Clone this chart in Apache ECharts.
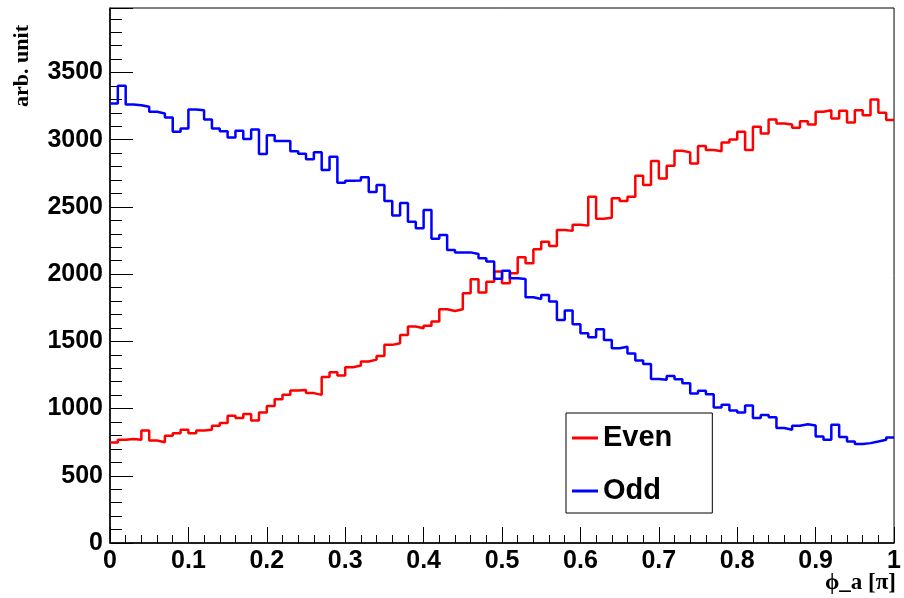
<!DOCTYPE html>
<html>
<head>
<meta charset="utf-8">
<script src="https://cdn.jsdelivr.net/npm/echarts@6/dist/echarts.min.js"></script>
<style>html,body{margin:0;padding:0;background:#fff;}#c{width:904px;height:598px;}</style>
</head>
<body>
<div id="c"></div>
<script>
// Histogram: 100 bins from 0 to 1 (phi_a in units of pi)
const xMin = 0, xMax = 1, nBins = 100;
const xTicks = ['0','0.1','0.2','0.3','0.4','0.5','0.6','0.7','0.8','0.9','1'];
const yTicks = ['0','500','1000','1500','2000','2500','3000','3500'];
const seriesNames = ['Even', 'Odd'];

const evenValues = [
  748, 768, 773, 768, 837, 763, 750, 797, 817, 842,
  817, 837, 842, 872, 892, 946, 929, 959, 911, 971,
  1020, 1070, 1102, 1134, 1139, 1115, 1102, 1234, 1271, 1246,
  1308, 1320, 1350, 1364, 1392, 1474, 1486, 1548, 1610, 1598,
  1617, 1647, 1739, 1726, 1739, 1858, 1962, 1863, 1944, 2019,
  1932, 2006, 2125, 2081, 2185, 2242, 2209, 2328, 2322, 2368,
  2361, 2576, 2413, 2420, 2564, 2544, 2576, 2732, 2663, 2841,
  2712, 2806, 2918, 2906, 2824, 2953, 2923, 2915, 2980, 3002,
  3059, 2923, 3096, 3047, 3151, 3121, 3114, 3089, 3138, 3114,
  3208, 3220, 3158, 3215, 3129, 3220, 3183, 3300, 3200, 3146
];

const oddValues = [
  3270, 3401, 3262, 3257, 3245, 3208, 3195, 3166, 3059, 3084,
  3225, 3220, 3151, 3084, 3064, 3017, 3067, 3005, 3076, 2893,
  3034, 2990, 2990, 2915, 2895, 2855, 2906, 2774, 2873, 2680,
  2695, 2697, 2720, 2612, 2663, 2544, 2437, 2529, 2390, 2341,
  2477, 2264, 2291, 2180, 2161, 2162, 2150, 2118, 2095, 1965,
  2026, 1969, 1964, 1828, 1815, 1845, 1796, 1659, 1729, 1627,
  1561, 1531, 1591, 1511, 1449, 1460, 1410, 1357, 1332, 1220,
  1214, 1243, 1219, 1189, 1112, 1132, 1107, 1008, 1028, 986,
  971, 1023, 929, 953, 936, 855, 842, 872, 884, 874,
  792, 768, 879, 788, 755, 736, 743, 755, 768, 785
];

function histData(values) {
  const w = (xMax - xMin) / nBins;
  const d = values.map((v, i) => [xMin + i * w, v]);
  d.push([xMax, values[values.length - 1]]);
  return d;
}

const chart = echarts.init(document.getElementById('c'), null, {renderer: 'canvas'});
const sansBold = {fontFamily: '"Liberation Sans", Arial, Helvetica, sans-serif', fontWeight: 'bold', color: '#000'};
const serifBold = {fontFamily: '"Liberation Serif", "Times New Roman", serif', fontWeight: 'bold', fill: '#000'};

chart.setOption({
  animation: false,
  backgroundColor: '#fff',
  grid: {left: 110, right: 8, top: 8, bottom: 55, show: true, borderColor: '#000', borderWidth: 1, backgroundColor: 'transparent'},
  xAxis: {
    type: 'value', min: xMin, max: xMax, interval: 0.1,
    axisLine: {show: true, lineStyle: {color: '#000', width: 1.5}},
    axisTick: {show: true, inside: true, length: 16, lineStyle: {color: '#000'}},
    minorTick: {show: true, splitNumber: 5, length: 8, lineStyle: {color: '#000'}},
    splitLine: {show: false},
    axisLabel: Object.assign({fontSize: 25, margin: 6, formatter: (v) => {
      const s = String(Math.round(v * 10) / 10); return xTicks.indexOf(s) >= 0 ? s : '';
    }}, sansBold)
  },
  yAxis: {
    type: 'value', min: 0, max: 3980, interval: 500,
    axisLine: {show: true, lineStyle: {color: '#000', width: 1.5}},
    axisTick: {show: true, inside: true, length: 23, lineStyle: {color: '#000'}},
    minorTick: {show: true, splitNumber: 5, length: 12, lineStyle: {color: '#000'}},
    splitLine: {show: false},
    axisLabel: Object.assign({fontSize: 25, margin: 7, showMaxLabel: false, formatter: (v) => {
      const s = String(v); return yTicks.indexOf(s) >= 0 ? s : '';
    }}, sansBold)
  },
  legend: {
    orient: 'vertical', left: 566, top: 413,
    icon: 'rect',
    padding: [10, 40, 7, 6], itemGap: 23, itemWidth: 26, itemHeight: 3,
    backgroundColor: '#fff', borderColor: '#000', borderWidth: 1, borderRadius: 0,
    textStyle: Object.assign({fontSize: 29, lineHeight: 30}, sansBold),
    data: seriesNames
  },
  series: [
    {name: seriesNames[0], type: 'line', step: 'end', symbol: 'none', data: histData(evenValues),
     lineStyle: {color: '#ff0000', width: 2.5}, itemStyle: {color: '#ff0000'}},
    {name: seriesNames[1], type: 'line', step: 'end', symbol: 'none', data: histData(oddValues),
     lineStyle: {color: '#0000ff', width: 2.5}, itemStyle: {color: '#0000ff'}}
  ],
  graphic: [
    {type: 'text', x: 22, y: 25, rotation: Math.PI / 2,
     style: Object.assign({text: 'arb. unit', fontSize: 22, textAlign: 'right', textVerticalAlign: 'middle'}, serifBold)},
    {type: 'text', x: 896, y: 583,
     style: Object.assign({text: 'ϕ_a [π]', fontSize: 23, textAlign: 'right', textVerticalAlign: 'middle'}, serifBold)}
  ]
});
</script>
</body>
</html>
